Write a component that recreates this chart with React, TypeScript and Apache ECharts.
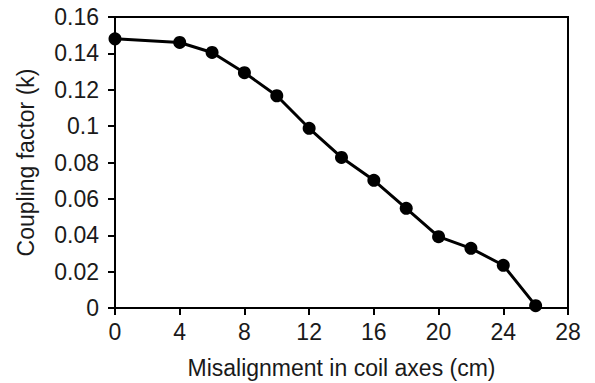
import React, { useEffect, useRef } from "react";
import * as echarts from "echarts";

const xValues = [0, 4, 6, 8, 10, 12, 14, 16, 18, 20, 22, 24, 26];
const kValues = [0.148, 0.146, 0.1405, 0.1294, 0.1167, 0.0988, 0.0828, 0.0702, 0.0548, 0.0392, 0.0328, 0.0235, 0.0013];
const xAxisTitle = "Misalignment in coil axes (cm)";
const yAxisTitle = "Coupling factor (k)";

export default function App() {
  const ref = useRef<HTMLDivElement>(null);
  useEffect(() => {
    const chart = echarts.init(ref.current!, null, { renderer: "svg" });
    const font = "Liberation Sans, Arial, sans-serif";
    const textColor = "#1a1a1a";
    const fs = 23;
    chart.setOption({
      animation: false,
      backgroundColor: "#fff",
      grid: {
        left: 115,
        right: 27,
        top: 17,
        bottom: 75,
        outerBoundsMode: "none",
        containLabel: false,
        show: true,
        borderColor: "#000",
        borderWidth: 2,
        backgroundColor: "transparent",
      },
      xAxis: {
        type: "value",
        min: 0,
        max: 28,
        interval: 4,
        name: xAxisTitle,
        nameLocation: "middle",
        nameGap: 48,
        nameTextStyle: { fontFamily: font, fontSize: fs, color: textColor },
        axisLine: { show: true, lineStyle: { color: "#000", width: 2 } },
        axisTick: { show: true, length: 7, lineStyle: { color: "#000", width: 2 } },
        axisLabel: { fontFamily: font, fontSize: fs, color: textColor, margin: 12 },
        splitLine: { show: false },
      },
      yAxis: {
        type: "value",
        min: 0,
        max: 0.16,
        interval: 0.02,
        name: yAxisTitle,
        nameLocation: "middle",
        nameGap: 78,
        nameTextStyle: { fontFamily: font, fontSize: fs, color: textColor },
        axisLine: { show: true, lineStyle: { color: "#000", width: 2 } },
        axisTick: { show: true, length: 7, lineStyle: { color: "#000", width: 2 } },
        axisLabel: {
          fontFamily: font,
          fontSize: fs,
          color: textColor,
          margin: 16,
          formatter: (v: number) => String(Math.round(v * 100) / 100),
        },
        splitLine: { show: false },
      },
      series: [
        {
          type: "line",
          data: xValues.map((x, i) => [x, kValues[i]]),
          symbol: "circle",
          symbolSize: 13,
          lineStyle: { color: "#000", width: 3 },
          itemStyle: { color: "#000" },
          clip: false,
        },
      ],
    });
    return () => chart.dispose();
  }, []);
  return <div ref={ref} style={{ width: 595, height: 383, position: "absolute", left: 0, top: 0 }} />;
}
